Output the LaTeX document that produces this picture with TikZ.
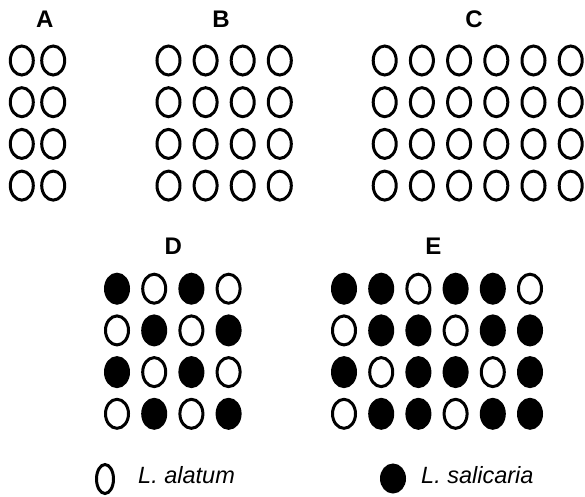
\documentclass[tikz,border=0pt]{standalone}
\usepackage{fontspec}
\setmainfont{Liberation Sans}
\usetikzlibrary{positioning}
\newcommand{\flower}[3]{\path[plant#1] ({#2},{#3}) ellipse [x radius=11.5pt,y radius=14.5pt];}
\begin{document}
\begin{tikzpicture}[x=1pt,y=-1pt,
 every node/.style={inner sep=0pt},
 panel/.style={font=\fontsize{24}{24}\selectfont\bfseries},
 key/.style={font=\fontsize{23.5}{24}\selectfont\itshape,anchor=west},
 plant0/.style={draw=black,line width=3pt,fill=white},
 plant1/.style={draw=black,line width=3pt,fill=black}]
 \useasboundingbox (0,0) rectangle (585,496);
 \node[panel] (A) at (44.7,19.7) {A};
 \node[panel] (B) at (221,19.7) {B};
 \node[panel] (C) at (474,19.7) {C};
 \node[panel] (D) at (173.3,246) {D};
 \node[panel] (E) at (433.3,246) {E};
 \foreach \r in {1,...,4}{
  \foreach \c in {1,2}{\flower{0}{21.8+31.4*(\c-1)}{60.5+41.7*(\r-1)}}
  \foreach \c in {1,...,4}{\flower{0}{168.5+37.1*(\c-1)}{60.5+41.7*(\r-1)}}
  \foreach \c in {1,...,6}{\flower{0}{384.7+37.2*(\c-1)}{60.5+41.7*(\r-1)}}
 }
 \foreach \pat [count=\r] in {{1,0,1,0},{0,1,0,1},{1,0,1,0},{0,1,0,1}}{
  \foreach \f [count=\c] in \pat {\flower{\f}{117+37.2*(\c-1)}{288.7+41.7*(\r-1)}}
 }
 \foreach \pat [count=\r] in {{1,1,0,1,1,0},{0,1,1,0,1,1},{1,0,1,1,0,1},{0,1,1,0,1,1}}{
  \foreach \f [count=\c] in \pat {\flower{\f}{344+37.2*(\c-1)}{288.7+41.7*(\r-1)}}
 }
 \path[plant0] (105,479) ellipse [x radius=8.5pt,y radius=14.5pt];
 \node[key] (alatum) at (138,475.5) {L. alatum};
 \path[plant1] (393,478.5) ellipse [x radius=11.5pt,y radius=13.5pt];
 \node[key] (salicaria) at (421,475.5) {L. salicaria};
\end{tikzpicture}
\end{document}
